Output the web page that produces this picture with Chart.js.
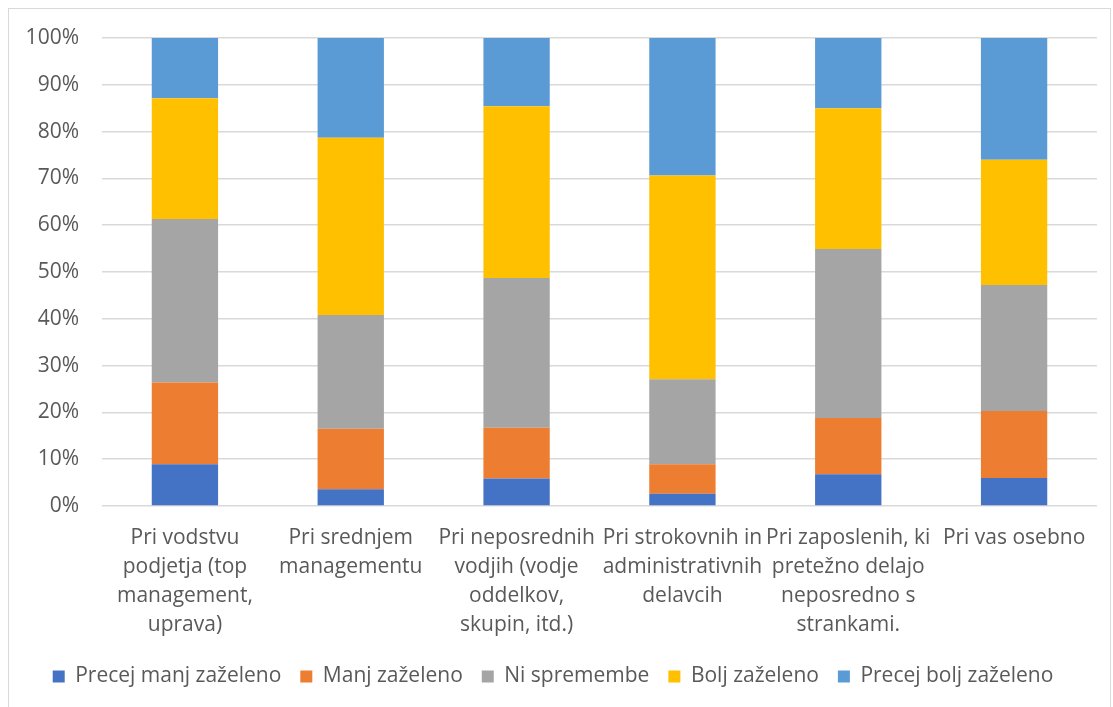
<!DOCTYPE html>
<html>
<head>
<meta charset="utf-8">
<script src="https://cdn.jsdelivr.net/npm/chart.js@4/dist/chart.umd.min.js"></script>
<style>
  html, body { margin: 0; padding: 0; background: #fff; }
  #wrap { position: absolute; left: 8px; top: 8px; width: 1103px; height: 699px; border: 1px solid #d9d9d9; border-bottom: none; box-sizing: border-box; }
  #c { position: absolute; left: 0; top: 0; }
</style>
</head>
<body>
<div id="wrap"><canvas id="c" width="1101" height="698"></canvas></div>
<script>
const categories = [
  ["Pri vodstvu", "podjetja (top", "management,", "uprava)"],
  ["Pri srednjem", "managementu"],
  ["Pri neposrednih", "vodjih (vodje", "oddelkov,", "skupin, itd.)"],
  ["Pri strokovnih in", "administrativnih", "delavcih"],
  ["Pri zaposlenih, ki", "pretežno delajo", "neposredno s", "strankami."],
  ["Pri vas osebno"]
];
const seriesNames = ["Precej manj zaželeno", "Manj zaželeno", "Ni spremembe", "Bolj zaželeno", "Precej bolj zaželeno"];
const precejManj = [8.9, 3.6, 5.9, 2.6, 6.8, 6.0];
const manj = [17.5, 12.9, 10.8, 6.3, 12.0, 14.3];
const niSpremembe = [34.9, 24.3, 32.0, 18.2, 36.1, 26.9];
const bolj = [25.8, 37.9, 36.7, 43.5, 30.1, 26.8];
const precejBolj = [12.9, 21.3, 14.6, 29.4, 15.0, 26.0];
const colors = ["#4472C4", "#ED7D31", "#A5A5A5", "#FFC000", "#5B9BD5"];

const seriesValues = [precejManj, manj, niSpremembe, bolj, precejBolj];
const FONT = "'Open Sans', sans-serif";
const datasets = seriesValues.map((v, i) => ({
  label: seriesNames[i],
  data: v,
  backgroundColor: colors[i],
  borderWidth: 0,
  barPercentage: 0.4,
  categoryPercentage: 1.0
}));

new Chart(document.getElementById('c'), {
  type: 'bar',
  data: { labels: categories, datasets },
  options: {
    responsive: false,
    animation: false,
    layout: { padding: { left: 0, right: 13, top: 29, bottom: 10 } },
    plugins: {
      tooltip: { enabled: false },
      legend: {
        position: 'bottom',
        labels: {
          font: { family: FONT, size: 21 },
          color: '#595959',
          boxWidth: 12,
          boxHeight: 12,
          padding: 19
        }
      }
    },
    scales: {
      x: {
        stacked: true,
        grid: { display: false },
        border: { display: false },
        afterFit: s => { s.height = 141; },
        ticks: {
          font: { family: FONT, size: 21, lineHeight: 1.38 },
          color: '#595959',
          maxRotation: 0,
          autoSkip: false,
          padding: 10
        }
      },
      y: {
        stacked: true,
        min: 0,
        max: 100,
        afterFit: s => { s.width = 93; s.paddingTop = 0; s.paddingBottom = 0; },
        grid: { color: '#d9d9d9', lineWidth: 1.5, drawTicks: false },
        border: { display: false },
        ticks: {
          stepSize: 10,
          font: { family: FONT, size: 21 },
          color: '#595959',
          padding: 23,
          callback: v => v + '%'
        }
      }
    }
  }
});
</script>
</body>
</html>
